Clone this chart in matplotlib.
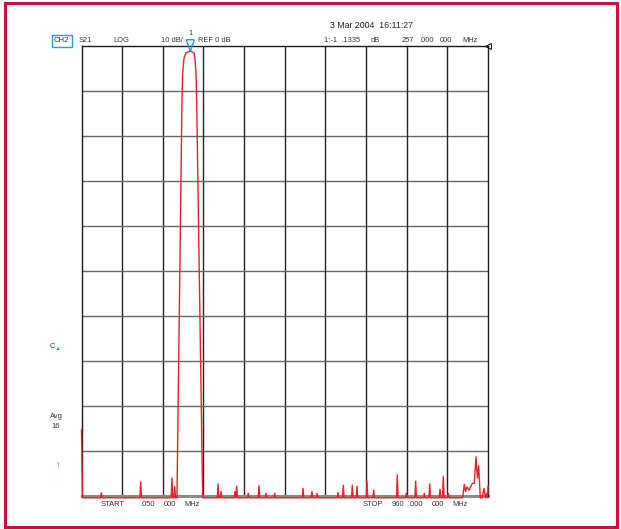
import matplotlib.pyplot as plt
from matplotlib.patches import Rectangle, Polygon

plt.rcParams['font.family'] = ['Liberation Sans', 'DejaVu Sans']

W, H = 621, 529

start_mhz = 0.05
stop_mhz = 960.0
floor_db = -100.4

# start of sweep
start_db = -85.3

# filter passband (MHz, dB)
band_f = [225.5, 237.3, 239.0, 242.1, 246.8, 257.0, 265.5, 267.9, 270.4, 272.0, 286.2]
band_db = [floor_db, -12, -6, -2.7, -1.5, -1.13, -1.5, -2.7, -6, -12, floor_db]

# spurs in the stopband
spur_f = [46.8, 139.8, 213.7, 220.1, 322.6, 329.7, 362.5, 366.5, 393.9, 419.2,
          435.7, 456.3, 523.1, 544.3, 556.2, 605.8, 618.3, 639.5, 650.6, 674.2,
          690.1, 745.8, 767.1, 789.2, 809.6, 822.3, 846.7, 854.4, 866.2]
spur_db = [-99.3, -96.8, -96.0, -97.9, -97.3, -99.0, -99.0, -97.8, -99.4, -97.7,
           -99.4, -99.4, -98.3, -99.0, -99.4, -99.2, -97.6, -97.6, -97.8, -96.7,
           -98.7, -95.3, -99.4, -96.7, -99.4, -97.3, -98.5, -95.7, -99.4]

# noisy end of the sweep
tail_f = [900.0, 904.0, 907.0, 910.4, 915.1, 922.9, 927.6, 931.6, 935.0, 938.0,
          941.8, 946.0, 950.5, 954.0, 957.0, 959.0, 960.0]
tail_db = [floor_db, -97.4, -99.0, -98.0, -98.7, -97.2, -97.2, -91.3, -96.0, -93.3,
           floor_db, floor_db, -98.3, floor_db, -99.4, floor_db, -97.8]

marker_f = 257.0
marker_db = -1.1335

# assemble the trace
pts = [(start_mhz, start_db), (2.4, floor_db)]
hw = 1.8
for f, d in zip(spur_f, spur_db):
    pts += [(f - hw, floor_db), (f, d), (f + hw, floor_db)]
pts += list(zip(band_f, band_db))
pts += list(zip(tail_f, tail_db))
pts.sort(key=lambda p: p[0])
trace_f = [p[0] for p in pts]
trace_db = [p[1] for p in pts]

fig = plt.figure(figsize=(W / 100, H / 100), dpi=100)
ax = fig.add_axes([81.5 / W, 1 - 496 / H, (488 - 81.5) / W, (496 - 46) / H])
ax.set_xlim(start_mhz, stop_mhz)
ax.set_ylim(-100, 0)

span = stop_mhz - start_mhz
for i in range(1, 10):
    ax.axvline(start_mhz + span * i / 10, color='#222222', lw=1.0, zorder=1)
    ax.axhline(-10 * i, color='#666666', lw=1.0, zorder=1)
ax.axhline(-100, color='#8a8a8a', lw=2.2, zorder=1, clip_on=False)
for s in ax.spines.values():
    s.set_color('#1a1a1a')
    s.set_linewidth(1.0)
ax.spines['bottom'].set_visible(False)
ax.set_xticks([])
ax.set_yticks([])

ax.plot(trace_f, trace_db, color='#e8202a', lw=1.0, zorder=3, clip_on=False)

# marker 1
mw = 9.5
ax.add_patch(Polygon([(marker_f - mw, 1.4), (marker_f + mw, 1.4), (marker_f, marker_db)],
                     closed=True, fill=False, edgecolor='#1ea0d8', lw=1.0, clip_on=False, zorder=4))
ax.text(marker_f, 2.0, '1', ha='center', va='bottom', fontsize=5.5, color='#333333')

# reference level marker
ax.plot([1.0], [1.0], transform=ax.transAxes, marker='<', ms=4, mfc='white',
        mec='#1a1a1a', mew=0.8, clip_on=False)


def txt(x, y, s, size=5.4, color='#333333', **kw):
    fig.text(x / W, 1 - y / H, s, fontsize=size, color=color, va='center', ha='left', **kw)


txt(330, 25, '3 Mar 2004  16:11:27', size=6.3, color='#222222')
txt(54, 41, 'CH2', size=5.6,
    bbox=dict(boxstyle='square,pad=0.3', fc='white', ec='#1ea0d8', lw=1.0))
txt(79, 41, 'S21')
txt(113, 41, 'LOG')
txt(161, 41, '10 dB/')
txt(198, 41, 'REF 0 dB')
txt(324, 41, '1:-1  .1335')
txt(371, 41, 'dB')
txt(402, 41, '257')
txt(419, 41, '.000')
txt(440, 41, '000')
txt(462, 41, 'MHz')

txt(50, 347, 'C')
txt(55, 348.5, '\u25b2', size=4.5, color='#1ea0d8')
txt(50, 417, 'Avg')
txt(51, 427, '16')
txt(55.5, 465, '\u2191', size=7, color='#1ea0d8', fontweight='bold')

txt(101, 505, 'START')
txt(140, 505, '.050')
txt(164, 505, '000')
txt(184, 505, 'MHz')
txt(363, 505, 'STOP')
txt(392, 505, '960')
txt(408, 505, '.000')
txt(432, 505, '000')
txt(452, 505, 'MHz')

# red outer frame
fig.add_artist(Rectangle((5 / W, 1 - 527 / H), (617 - 5) / W, (527 - 3) / H,
                         transform=fig.transFigure, fill=False, ec='#c8143c', lw=2.2))

fig.savefig('out.png', dpi=100)
